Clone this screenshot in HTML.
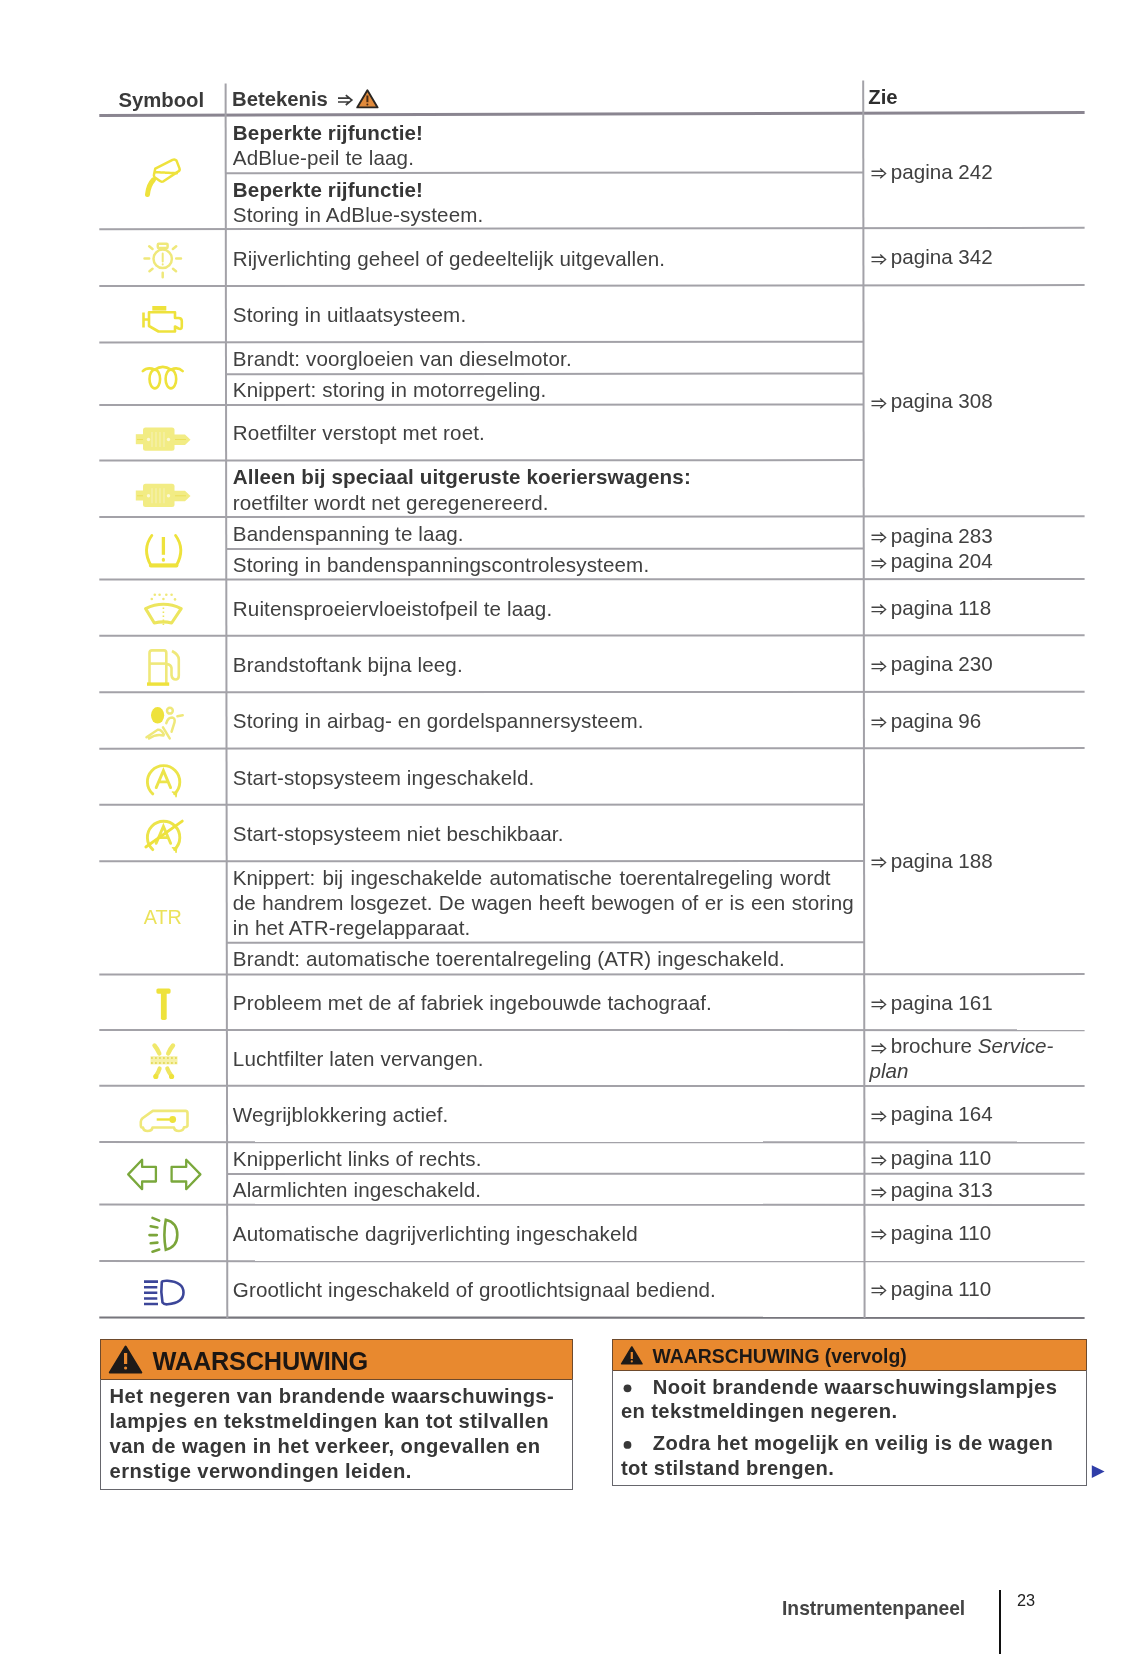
<!DOCTYPE html>
<html><head><meta charset="utf-8"><title>Instrumentenpaneel</title>
<style>
html,body{margin:0;padding:0;background:#fff;}
body{width:1142px;height:1654px;position:relative;overflow:hidden;font-family:"Liberation Sans",sans-serif;}
#pg{position:absolute;left:0;top:0;width:1142px;height:1654px;filter:blur(0.5px);}
.t{position:absolute;white-space:nowrap;}
.ov{position:absolute;left:0;top:0;}
.ar{display:inline-block;vertical-align:baseline;margin-right:4.3px;position:relative;top:0.5px;}
.ar2{display:inline-block;vertical-align:baseline;margin-left:2px;}
</style></head><body><div id="pg">
<div style="position:absolute;left:99.5px;top:1339px;width:473px;height:41px;background:#e8892f;border:1.5px solid #6e4a2c;box-sizing:border-box"></div><div style="position:absolute;left:99.5px;top:1379px;width:473.5px;height:110.5px;border:1.4px solid #66666c;border-top:none;box-sizing:border-box"></div><div style="position:absolute;left:612px;top:1339px;width:474.5px;height:32px;background:#e8892f;border:1.5px solid #6e4a2c;box-sizing:border-box"></div><div style="position:absolute;left:612px;top:1370px;width:474.5px;height:115.5px;border:1.4px solid #66666c;border-top:none;box-sizing:border-box"></div>
<svg class="ov" width="1142" height="1654" viewBox="0 0 1142 1654"><line x1="99.3" y1="115.5" x2="1084.6" y2="112.6" stroke="#8a8590" stroke-width="3"/><line x1="99.3" y1="229.2" x2="1084.6" y2="227.8" stroke="#a3a2a8" stroke-width="2"/><line x1="99.3" y1="286.1" x2="1084.6" y2="285.1" stroke="#a3a2a8" stroke-width="2"/><line x1="99.3" y1="517.1" x2="1084.6" y2="516.3" stroke="#a3a2a8" stroke-width="2"/><line x1="99.3" y1="579.6" x2="1084.6" y2="579" stroke="#a3a2a8" stroke-width="2"/><line x1="99.3" y1="635.7" x2="1084.6" y2="635.3" stroke="#a3a2a8" stroke-width="2"/><line x1="99.3" y1="692.2" x2="1084.6" y2="691.8" stroke="#a3a2a8" stroke-width="2"/><line x1="99.3" y1="748.7" x2="1084.6" y2="748.1" stroke="#a3a2a8" stroke-width="2"/><line x1="99.3" y1="974.6" x2="1084.6" y2="974.1" stroke="#a3a2a8" stroke-width="2"/><line x1="99.3" y1="1029.9" x2="1084.6" y2="1030.2" stroke="#a3a2a8" stroke-width="2"/><line x1="99.3" y1="1085.8" x2="1084.6" y2="1086.1" stroke="#a3a2a8" stroke-width="2"/><line x1="99.3" y1="1142.1" x2="1084.6" y2="1142.4" stroke="#a3a2a8" stroke-width="2"/><line x1="99.3" y1="1204.6" x2="1084.6" y2="1205" stroke="#a3a2a8" stroke-width="2"/><line x1="99.3" y1="1261.1" x2="1084.6" y2="1261.3" stroke="#a3a2a8" stroke-width="2"/><line x1="99.3" y1="1317.5" x2="1084.6" y2="1317.9" stroke="#77767d" stroke-width="2.2"/><line x1="99.3" y1="342.4" x2="863.2940566801619" y2="341.7" stroke="#a3a2a8" stroke-width="2"/><line x1="99.3" y1="405.1" x2="863.3651336032389" y2="404.5" stroke="#a3a2a8" stroke-width="2"/><line x1="99.3" y1="460.6" x2="863.428048582996" y2="460.1" stroke="#a3a2a8" stroke-width="2"/><line x1="99.3" y1="804.8" x2="863.8182348178137" y2="804.5" stroke="#a3a2a8" stroke-width="2"/><line x1="99.3" y1="861.3" x2="863.8822834008097" y2="861" stroke="#a3a2a8" stroke-width="2"/><line x1="225.63146558704454" y1="173.2" x2="863.1022510121458" y2="172.4" stroke="#a3a2a8" stroke-width="2"/><line x1="225.92442105263157" y1="374.2" x2="863.3301052631579" y2="373.5" stroke="#a3a2a8" stroke-width="2"/><line x1="226.17904453441295" y1="548.9" x2="863.5281457489879" y2="548.6" stroke="#a3a2a8" stroke-width="2"/><line x1="226.753004048583" y1="942.7" x2="863.9745587044534" y2="942.3" stroke="#a3a2a8" stroke-width="2"/><line x1="227.0901214574899" y1="1173.9" x2="1084.6" y2="1173.8" stroke="#a3a2a8" stroke-width="2"/><line x1="225.6" y1="83.5" x2="227.3" y2="1318" stroke="#a3a2a8" stroke-width="2"/><line x1="863.2" y1="80.5" x2="864.6" y2="1318" stroke="#a3a2a8" stroke-width="2"/><path d="M338,98.2H349.5M338,102H349.5M345.8,95.2L351.8,100.1L345.8,105" fill="none" stroke="#3a3a3a" stroke-width="1.7"/><path d="M367.4,90.2 L377.6,107.4 H357.2 Z" fill="#e08a3c" stroke="#2a2622" stroke-width="1.9" stroke-linejoin="round"/><path d="M367.4,95.5 V102.2" stroke="#4a2c14" stroke-width="2"/><circle cx="367.4" cy="104.6" r="1" fill="#4a2c14"/><g fill="none" stroke="#eee23c" stroke-width="2.5" stroke-linejoin="round" stroke-linecap="round"><path d="M155.3,168.6 L172.5,159.8 Q175,158.8 176.5,160.6 L179.5,168.4 Q180.3,170.6 178,171.6 L163.5,181.3 Q161.3,182.2 159.6,180.8 L154.6,177.2 Q153.5,176 154,174.5 Z"/><path d="M155.8,172.2 L176.8,173.2" stroke-dasharray="2 1.2"/><path d="M153.5,179.8 Q148.5,185 147.5,194.6" stroke-width="5"/></g><g fill="none" stroke="#efe87a" stroke-width="2.5" stroke-linecap="round"><circle cx="162.7" cy="258.8" r="9.2"/><rect x="157.8" y="243.8" width="9.8" height="4.2" rx="1"/><path d="M162.7,253.5V261.5M162.7,264.3V264.6" stroke-width="2"/><path d="M144.5,258.6H149.2M176.2,258.6H181M162.7,272.8V277.3M149.2,246.2L152.5,249M176.2,246.2L172.9,249M149.5,271.2L152.5,268.8M176,271.2L173,268.8"/></g><g fill="none" stroke="#eee23c" stroke-width="2.6" stroke-linejoin="round"><rect x="152.3" y="306" width="14" height="4.6" fill="#eee23c" stroke="none"/><path d="M149,312.2 H175 V318 H178.5 Q181.8,318 181.8,321 V326.5 Q181.8,329.8 178.5,328.5 L175,326.5 V331.5 H158.5 L149,326 Z"/><path d="M143.5,312.5 V327.5 M143.5,319.5 H149"/></g><g fill="none" stroke="#eee23c" stroke-width="2.6" stroke-linecap="round"><ellipse cx="154.8" cy="379" rx="5.3" ry="9.4"/><ellipse cx="170.9" cy="379" rx="5.3" ry="9.4"/><path d="M142.8,371.2 Q147.5,366.5 154.8,369.6 Q162.8,364 170.9,369.6 Q178,366.5 182.7,371.2"/></g><g transform="translate(0,0)"><rect x="143" y="427.5" width="31.5" height="23.2" rx="2.5" fill="#f2ec84"/><rect x="135.8" y="434.2" width="8" height="10" fill="#f2ec84"/><path d="M174,434.5 H185 L190.5,439.8 L185,445 H174 Z" fill="#f2ec84"/><g fill="#fbf8d8"><circle cx="148.5" cy="439.5" r="1.7"/><circle cx="168.5" cy="439.5" r="1.7"/><path d="M152,432V447M156,432V447M160,432V447M164,432V447" stroke="#f6f1b0" stroke-width="1.2"/></g><path d="M137,439.5H143M175,439.5H186" stroke="#ece05a" stroke-width="1"/></g><g transform="translate(0,56.3)"><rect x="143" y="427.5" width="31.5" height="23.2" rx="2.5" fill="#f2ec84"/><rect x="135.8" y="434.2" width="8" height="10" fill="#f2ec84"/><path d="M174,434.5 H185 L190.5,439.8 L185,445 H174 Z" fill="#f2ec84"/><g fill="#fbf8d8"><circle cx="148.5" cy="439.5" r="1.7"/><circle cx="168.5" cy="439.5" r="1.7"/><path d="M152,432V447M156,432V447M160,432V447M164,432V447" stroke="#f6f1b0" stroke-width="1.2"/></g><path d="M137,439.5H143M175,439.5H186" stroke="#ece05a" stroke-width="1"/></g><g fill="none" stroke="#eee23c" stroke-width="2.9" stroke-linecap="round"><path d="M151.8,535.5 Q141.8,549 150.8,565.3 H176.5 Q185.5,549 175.6,535.5"/><path d="M150.8,565.5 H176.5" stroke-width="3.8"/><path d="M163.4,537 V554.8" stroke-width="3.3" stroke-linecap="butt"/><path d="M163.4,559.3 V560.3" stroke-width="3"/></g><g fill="none" stroke="#ece55e" stroke-width="3.1" stroke-linejoin="round"><path d="M145.6,608.6 Q163.4,600 181.2,608.6 L171.6,623 Q163.4,620.8 154.3,623 Z"/><path d="M163.4,607.5 V626.5" stroke-width="1.6" stroke-dasharray="1.6 2.4"/><g fill="#efe87a" stroke="none"><circle cx="151.8" cy="599" r="1.3"/><circle cx="154.8" cy="594.7" r="1.3"/><circle cx="159.6" cy="594.7" r="1.3"/><circle cx="163.4" cy="599" r="1.3"/><circle cx="166.3" cy="594.7" r="1.3"/><circle cx="171.6" cy="594.7" r="1.3"/><circle cx="175" cy="599.4" r="1.3"/></g></g><g fill="none" stroke="#efe87a" stroke-width="2.6" stroke-linejoin="round"><path d="M149.5,683 V653 Q149.5,650.4 152,650.4 H164 Q166.3,650.4 166.3,653 V683"/><path d="M149.5,663.6 H166.3"/><rect x="147" y="682.4" width="22.2" height="3.4" fill="#eee23c" stroke="none"/><path d="M166.8,664.1 Q171,664.5 171.5,668 V675 Q172,679.5 176,679.5 Q178.8,679.2 178.8,675.5 V659.5 Q178.8,654.5 172,651"/></g><g fill="none" stroke="#efe87a" stroke-width="2.5" stroke-linecap="round"><ellipse cx="157.6" cy="715.3" rx="6.6" ry="8.3" fill="#eee23c" stroke="none"/><circle cx="169.9" cy="710.7" r="2.9"/><path d="M177.4,716.2 L182.7,715.2"/><path d="M166.3,723.2 Q168,717.6 172,717.6 Q175.5,718 174.5,722.5 L171.6,731.7"/><path d="M146.5,737.3 L157.6,729.8 Q161,729 163.9,734.5 M149,738.5 Q156,733.5 163.5,735.5"/><path d="M163,727.3 L169.7,738.4"/></g><g fill="none" stroke="#ece44a" stroke-width="2.9" stroke-linecap="round"><path d="M152.8,793.9 A16.2,16.2 0 1 1 174.6,793.7"/><path d="M156.2,787.6 L163.4,770.7 L170.6,787.6 M158.6,781.9 H168.2"/><path d="M172.5,792.0 L176.5,792.8000000000001 L176,796.6" fill="#ece44a" stroke-width="1.6"/></g><g fill="none" stroke="#ece44a" stroke-width="2.9" stroke-linecap="round"><path d="M152.8,849.5999999999999 A16.2,16.2 0 1 1 174.6,849.4"/><path d="M156.2,843.3 L163.4,826.4 L170.6,843.3 M158.6,837.5999999999999 H168.2"/><path d="M172.5,847.6999999999999 L176.5,848.5 L176,852.3" fill="#ece44a" stroke-width="1.6"/></g><path d="M145.8,847.0 L182.3,821.0999999999999" stroke="#eee23c" stroke-width="2.8" stroke-linecap="round"/><g fill="#eee23c"><rect x="156.4" y="988.4" width="14.2" height="5.3" rx="1.6"/><rect x="160.9" y="990" width="5.8" height="30" rx="1.8"/></g><g fill="none" stroke-linecap="round"><path d="M154.5,1045.5 Q157.5,1049 159.3,1053.5 M173,1045.5 Q170,1049 168.2,1053.5" stroke="#f0e86a" stroke-width="4.4"/><path d="M159.6,1068.5 Q158.5,1072.5 155.8,1076 M167.3,1068.5 Q168.8,1072.5 171.6,1076" stroke="#efe660" stroke-width="4.2"/><rect x="150.5" y="1056.2" width="27" height="8.2" fill="#f6f1a8" stroke="none"/><path d="M151,1058 H177.5 M151,1063 H177.5" stroke="#e6dc60" stroke-width="1.8" stroke-dasharray="1.8 2.2" stroke-linecap="butt"/><circle cx="155.8" cy="1076.5" r="2.6" fill="#eee23c" stroke="none"/><circle cx="171.6" cy="1076.5" r="2.6" fill="#eee23c" stroke="none"/></g><g fill="none" stroke="#efe87a" stroke-width="2.6" stroke-linejoin="round"><path d="M152.8,1110.9 H185.5 Q187.5,1111 187.5,1113 V1125.5 Q187.5,1127 185,1127.2 H184 Q183.5,1131 179,1131 Q174.5,1131 174,1127.5 H152.5 Q152,1131 147.6,1131 Q143.5,1131 143,1127.5 H141.5 Q140.8,1127 140.8,1125.5 V1121.7 Q140.8,1119.8 142.5,1118.2 Z"/><path d="M156.7,1119.5 H169.8" stroke="#eee23c" stroke-width="2.4"/><circle cx="172.7" cy="1119.5" r="3.4" fill="#eee23c" stroke="none"/></g><g fill="none" stroke="#7aa83c" stroke-width="2.3" stroke-linejoin="round"><path d="M128.2,1174.4 L142.1,1159.8 V1166.9 H155.9 V1181.5 H142.1 V1189.2 Z"/><path d="M200.4,1174.4 L186.2,1159.8 V1166.9 H171.6 V1181.5 H186.2 V1189.2 Z"/></g><g fill="none" stroke="#7ba53a" stroke-width="2.6" stroke-linecap="round"><path d="M165.8,1219.8 Q163,1234.8 165.8,1249.8 Q177.3,1247 177.3,1234.8 Q177.3,1222.5 165.8,1219.8 Z"/><path d="M152.5,1217.9 L159.2,1220.6 M150.7,1226.3 L157.4,1227.5 M149.5,1235.1 H156.8 M150.7,1243.2 L157.4,1242.6 M152.5,1251.7 L159.2,1249.6"/></g><g fill="none" stroke="#3c4699" stroke-width="2.6"><path d="M161.8,1282 Q160.5,1292.5 162.5,1302.5 Q164,1304.6 167.5,1304.3 Q183.5,1303 183.5,1292.6 Q183.5,1282 167.5,1280.8 Q162.5,1280.6 161.8,1282 Z"/><path d="M144,1281.6 H158 M144,1287.2 H157.3 M144,1292.8 H157.3 M144,1298.5 H157.3 M144,1304 H158"/></g><path d="M125.6,1346.5 L141.3,1372.6 H109.8 Z" fill="#1e1a18" stroke="#1e1a18" stroke-width="2" stroke-linejoin="round"/><path d="M125.6,1353 V1364" stroke="#e8892f" stroke-width="3.2"/><circle cx="125.6" cy="1368" r="1.6" fill="#e8892f"/><path d="M631.8,1347 L642,1363.8 H621.6 Z" fill="#1e1a18" stroke="#1e1a18" stroke-width="1.6" stroke-linejoin="round"/><path d="M631.8,1352 V1359" stroke="#e8892f" stroke-width="2.2"/><circle cx="631.8" cy="1361.4" r="1.1" fill="#e8892f"/><circle cx="627.5" cy="1388.3" r="3.9" fill="#383838"/><circle cx="627.5" cy="1444.9" r="3.9" fill="#383838"/><path d="M1091.8,1465.2 L1104.6,1471.6 L1091.8,1478 Z" fill="#2f3ea8"/></svg>
<div class="t" style="left:118.5px;top:87.77px;font-size:20.3px;line-height:25px;font-weight:bold;color:#3a3a3a;font-style:normal;">Symbool</div><div class="t" style="left:232px;top:86.87px;font-size:20.3px;line-height:25px;font-weight:bold;color:#3a3a3a;font-style:normal;">Betekenis</div><div class="t" style="left:868.3px;top:84.67px;font-size:20.3px;line-height:25px;font-weight:bold;color:#2e2e2e;font-style:normal;">Zie</div><div class="t" style="left:232.8px;top:119.96px;font-size:20.6px;line-height:25px;font-weight:bold;color:#363636;font-style:normal;letter-spacing:0.13px;">Beperkte rijfunctie!</div><div class="t" style="left:232.8px;top:145.36px;font-size:20.6px;line-height:25px;font-weight:normal;color:#404040;font-style:normal;letter-spacing:0.13px;">AdBlue-peil te laag.</div><div class="t" style="left:232.8px;top:176.86px;font-size:20.6px;line-height:25px;font-weight:bold;color:#363636;font-style:normal;letter-spacing:0.13px;">Beperkte rijfunctie!</div><div class="t" style="left:232.8px;top:201.96px;font-size:20.6px;line-height:25px;font-weight:normal;color:#404040;font-style:normal;letter-spacing:0.13px;">Storing in AdBlue-systeem.</div><div class="t" style="left:232.8px;top:245.66px;font-size:20.6px;line-height:25px;font-weight:normal;color:#404040;font-style:normal;letter-spacing:0.13px;">Rijverlichting geheel of gedeeltelijk uitgevallen.</div><div class="t" style="left:232.8px;top:301.86px;font-size:20.6px;line-height:25px;font-weight:normal;color:#404040;font-style:normal;letter-spacing:0.13px;">Storing in uitlaatsysteem.</div><div class="t" style="left:232.8px;top:346.06px;font-size:20.6px;line-height:25px;font-weight:normal;color:#404040;font-style:normal;letter-spacing:0.13px;">Brandt: voorgloeien van dieselmotor.</div><div class="t" style="left:232.8px;top:377.36px;font-size:20.6px;line-height:25px;font-weight:normal;color:#404040;font-style:normal;letter-spacing:0.13px;">Knippert: storing in motorregeling.</div><div class="t" style="left:232.8px;top:420.36px;font-size:20.6px;line-height:25px;font-weight:normal;color:#404040;font-style:normal;letter-spacing:0.13px;">Roetfilter verstopt met roet.</div><div class="t" style="left:232.8px;top:464.36px;font-size:20.6px;line-height:25px;font-weight:bold;color:#363636;font-style:normal;letter-spacing:0.13px;">Alleen bij speciaal uitgeruste koerierswagens:</div><div class="t" style="left:232.8px;top:489.86px;font-size:20.6px;line-height:25px;font-weight:normal;color:#404040;font-style:normal;letter-spacing:0.13px;">roetfilter wordt net geregenereerd.</div><div class="t" style="left:232.8px;top:520.66px;font-size:20.6px;line-height:25px;font-weight:normal;color:#404040;font-style:normal;letter-spacing:0.13px;">Bandenspanning te laag.</div><div class="t" style="left:232.8px;top:551.86px;font-size:20.6px;line-height:25px;font-weight:normal;color:#404040;font-style:normal;letter-spacing:0.13px;">Storing in bandenspanningscontrolesysteem.</div><div class="t" style="left:232.8px;top:596.36px;font-size:20.6px;line-height:25px;font-weight:normal;color:#404040;font-style:normal;letter-spacing:0.13px;">Ruitensproeiervloeistofpeil te laag.</div><div class="t" style="left:232.8px;top:652.36px;font-size:20.6px;line-height:25px;font-weight:normal;color:#404040;font-style:normal;letter-spacing:0.13px;">Brandstoftank bijna leeg.</div><div class="t" style="left:232.8px;top:708.36px;font-size:20.6px;line-height:25px;font-weight:normal;color:#404040;font-style:normal;letter-spacing:0.13px;">Storing in airbag- en gordelspannersysteem.</div><div class="t" style="left:232.8px;top:764.56px;font-size:20.6px;line-height:25px;font-weight:normal;color:#404040;font-style:normal;letter-spacing:0.13px;">Start-stopsysteem ingeschakeld.</div><div class="t" style="left:232.8px;top:820.96px;font-size:20.6px;line-height:25px;font-weight:normal;color:#404040;font-style:normal;letter-spacing:0.13px;">Start-stopsysteem niet beschikbaar.</div><div class="t" style="left:232.8px;top:946.16px;font-size:20.6px;line-height:25px;font-weight:normal;color:#404040;font-style:normal;letter-spacing:0.13px;">Brandt: automatische toerentalregeling (ATR) ingeschakeld.</div><div class="t" style="left:232.8px;top:989.76px;font-size:20.6px;line-height:25px;font-weight:normal;color:#404040;font-style:normal;letter-spacing:0.13px;">Probleem met de af fabriek ingebouwde tachograaf.</div><div class="t" style="left:232.8px;top:1046.36px;font-size:20.6px;line-height:25px;font-weight:normal;color:#404040;font-style:normal;letter-spacing:0.13px;">Luchtfilter laten vervangen.</div><div class="t" style="left:232.8px;top:1102.36px;font-size:20.6px;line-height:25px;font-weight:normal;color:#404040;font-style:normal;letter-spacing:0.13px;">Wegrijblokkering actief.</div><div class="t" style="left:232.8px;top:1146.36px;font-size:20.6px;line-height:25px;font-weight:normal;color:#404040;font-style:normal;letter-spacing:0.13px;">Knipperlicht links of rechts.</div><div class="t" style="left:232.8px;top:1177.06px;font-size:20.6px;line-height:25px;font-weight:normal;color:#404040;font-style:normal;letter-spacing:0.13px;">Alarmlichten ingeschakeld.</div><div class="t" style="left:232.8px;top:1221.06px;font-size:20.6px;line-height:25px;font-weight:normal;color:#404040;font-style:normal;letter-spacing:0.13px;">Automatische dagrijverlichting ingeschakeld</div><div class="t" style="left:232.8px;top:1276.96px;font-size:20.6px;line-height:25px;font-weight:normal;color:#404040;font-style:normal;letter-spacing:0.13px;">Grootlicht ingeschakeld of grootlichtsignaal bediend.</div><div class="t" style="left:232.8px;top:864.76px;font-size:20.6px;line-height:25px;font-weight:normal;color:#404040;font-style:normal;width:597.8px;text-align:justify;text-align-last:justify;white-space:normal;">Knippert: bij ingeschakelde automatische toerentalregeling wordt</div><div class="t" style="left:232.8px;top:890.16px;font-size:20.6px;line-height:25px;font-weight:normal;color:#404040;font-style:normal;width:620.8px;text-align:justify;text-align-last:justify;white-space:normal;">de handrem losgezet. De wagen heeft bewogen of er is een storing</div><div class="t" style="left:232.8px;top:914.66px;font-size:20.6px;line-height:25px;font-weight:normal;color:#404040;font-style:normal;letter-spacing:0.13px;">in het ATR-regelapparaat.</div><div class="t" style="left:870.5px;top:158.76px;font-size:20.6px;line-height:25px;color:#404040"><svg class="ar" width="16" height="11" viewBox="0 0 16 11"><path d="M0.5 3.2H12.5M0.5 7.6H12.5M9.2 0.6L14.6 5.4L9.2 10.2" fill="none" stroke="#444" stroke-width="1.35"/></svg>pagina 242</div><div class="t" style="left:870.5px;top:244.36px;font-size:20.6px;line-height:25px;color:#404040"><svg class="ar" width="16" height="11" viewBox="0 0 16 11"><path d="M0.5 3.2H12.5M0.5 7.6H12.5M9.2 0.6L14.6 5.4L9.2 10.2" fill="none" stroke="#444" stroke-width="1.35"/></svg>pagina 342</div><div class="t" style="left:870.5px;top:388.36px;font-size:20.6px;line-height:25px;color:#404040"><svg class="ar" width="16" height="11" viewBox="0 0 16 11"><path d="M0.5 3.2H12.5M0.5 7.6H12.5M9.2 0.6L14.6 5.4L9.2 10.2" fill="none" stroke="#444" stroke-width="1.35"/></svg>pagina 308</div><div class="t" style="left:870.5px;top:522.86px;font-size:20.6px;line-height:25px;color:#404040"><svg class="ar" width="16" height="11" viewBox="0 0 16 11"><path d="M0.5 3.2H12.5M0.5 7.6H12.5M9.2 0.6L14.6 5.4L9.2 10.2" fill="none" stroke="#444" stroke-width="1.35"/></svg>pagina 283</div><div class="t" style="left:870.5px;top:548.16px;font-size:20.6px;line-height:25px;color:#404040"><svg class="ar" width="16" height="11" viewBox="0 0 16 11"><path d="M0.5 3.2H12.5M0.5 7.6H12.5M9.2 0.6L14.6 5.4L9.2 10.2" fill="none" stroke="#444" stroke-width="1.35"/></svg>pagina 204</div><div class="t" style="left:870.5px;top:594.56px;font-size:20.6px;line-height:25px;color:#404040"><svg class="ar" width="16" height="11" viewBox="0 0 16 11"><path d="M0.5 3.2H12.5M0.5 7.6H12.5M9.2 0.6L14.6 5.4L9.2 10.2" fill="none" stroke="#444" stroke-width="1.35"/></svg>pagina 118</div><div class="t" style="left:870.5px;top:651.36px;font-size:20.6px;line-height:25px;color:#404040"><svg class="ar" width="16" height="11" viewBox="0 0 16 11"><path d="M0.5 3.2H12.5M0.5 7.6H12.5M9.2 0.6L14.6 5.4L9.2 10.2" fill="none" stroke="#444" stroke-width="1.35"/></svg>pagina 230</div><div class="t" style="left:870.5px;top:707.76px;font-size:20.6px;line-height:25px;color:#404040"><svg class="ar" width="16" height="11" viewBox="0 0 16 11"><path d="M0.5 3.2H12.5M0.5 7.6H12.5M9.2 0.6L14.6 5.4L9.2 10.2" fill="none" stroke="#444" stroke-width="1.35"/></svg>pagina 96</div><div class="t" style="left:870.5px;top:847.96px;font-size:20.6px;line-height:25px;color:#404040"><svg class="ar" width="16" height="11" viewBox="0 0 16 11"><path d="M0.5 3.2H12.5M0.5 7.6H12.5M9.2 0.6L14.6 5.4L9.2 10.2" fill="none" stroke="#444" stroke-width="1.35"/></svg>pagina 188</div><div class="t" style="left:870.5px;top:989.56px;font-size:20.6px;line-height:25px;color:#404040"><svg class="ar" width="16" height="11" viewBox="0 0 16 11"><path d="M0.5 3.2H12.5M0.5 7.6H12.5M9.2 0.6L14.6 5.4L9.2 10.2" fill="none" stroke="#444" stroke-width="1.35"/></svg>pagina 161</div><div class="t" style="left:870.5px;top:1101.36px;font-size:20.6px;line-height:25px;color:#404040"><svg class="ar" width="16" height="11" viewBox="0 0 16 11"><path d="M0.5 3.2H12.5M0.5 7.6H12.5M9.2 0.6L14.6 5.4L9.2 10.2" fill="none" stroke="#444" stroke-width="1.35"/></svg>pagina 164</div><div class="t" style="left:870.5px;top:1145.06px;font-size:20.6px;line-height:25px;color:#404040"><svg class="ar" width="16" height="11" viewBox="0 0 16 11"><path d="M0.5 3.2H12.5M0.5 7.6H12.5M9.2 0.6L14.6 5.4L9.2 10.2" fill="none" stroke="#444" stroke-width="1.35"/></svg>pagina 110</div><div class="t" style="left:870.5px;top:1177.16px;font-size:20.6px;line-height:25px;color:#404040"><svg class="ar" width="16" height="11" viewBox="0 0 16 11"><path d="M0.5 3.2H12.5M0.5 7.6H12.5M9.2 0.6L14.6 5.4L9.2 10.2" fill="none" stroke="#444" stroke-width="1.35"/></svg>pagina 313</div><div class="t" style="left:870.5px;top:1219.96px;font-size:20.6px;line-height:25px;color:#404040"><svg class="ar" width="16" height="11" viewBox="0 0 16 11"><path d="M0.5 3.2H12.5M0.5 7.6H12.5M9.2 0.6L14.6 5.4L9.2 10.2" fill="none" stroke="#444" stroke-width="1.35"/></svg>pagina 110</div><div class="t" style="left:870.5px;top:1275.96px;font-size:20.6px;line-height:25px;color:#404040"><svg class="ar" width="16" height="11" viewBox="0 0 16 11"><path d="M0.5 3.2H12.5M0.5 7.6H12.5M9.2 0.6L14.6 5.4L9.2 10.2" fill="none" stroke="#444" stroke-width="1.35"/></svg>pagina 110</div><div class="t" style="left:870.5px;top:1033.16px;font-size:20.6px;line-height:25px;color:#404040"><svg class="ar" width="16" height="11" viewBox="0 0 16 11"><path d="M0.5 3.2H12.5M0.5 7.6H12.5M9.2 0.6L14.6 5.4L9.2 10.2" fill="none" stroke="#444" stroke-width="1.35"/></svg>brochure <i>Service-</i></div><div class="t" style="left:869.5px;top:1057.76px;font-size:20.6px;line-height:25px;font-weight:normal;color:#404040;font-style:normal;"><i>plan</i></div><div class="t" style="left:143.8px;top:905.34px;font-size:19.8px;line-height:25px;color:#ebe25a">ATR</div><div class="t" style="left:152.6px;top:1346.43px;font-size:25.3px;line-height:30px;font-weight:bold;color:#1c1612;letter-spacing:-0.2px">WAARSCHUWING</div><div class="t" style="left:109.6px;top:1383.80px;font-size:20.2px;line-height:25px;font-weight:bold;color:#363636;font-style:normal;letter-spacing:0.4px;">Het negeren van brandende waarschuwings-</div><div class="t" style="left:109.6px;top:1408.80px;font-size:20.2px;line-height:25px;font-weight:bold;color:#363636;font-style:normal;letter-spacing:0.4px;">lampjes en tekstmeldingen kan tot stilvallen</div><div class="t" style="left:109.6px;top:1434.00px;font-size:20.2px;line-height:25px;font-weight:bold;color:#363636;font-style:normal;letter-spacing:0.4px;">van de wagen in het verkeer, ongevallen en</div><div class="t" style="left:109.6px;top:1459.20px;font-size:20.2px;line-height:25px;font-weight:bold;color:#363636;font-style:normal;letter-spacing:0.4px;">ernstige verwondingen leiden.</div><div class="t" style="left:652.5px;top:1343.58px;font-size:19.4px;line-height:25px;font-weight:bold;color:#1c1816;font-style:normal;">WAARSCHUWING (vervolg)</div><div class="t" style="left:652.8px;top:1374.50px;font-size:20.2px;line-height:25px;font-weight:bold;color:#363636;font-style:normal;letter-spacing:0.36px;">Nooit brandende waarschuwingslampjes</div><div class="t" style="left:621.0px;top:1399.20px;font-size:20.2px;line-height:25px;font-weight:bold;color:#363636;font-style:normal;letter-spacing:0.36px;">en tekstmeldingen negeren.</div><div class="t" style="left:652.8px;top:1430.70px;font-size:20.2px;line-height:25px;font-weight:bold;color:#363636;font-style:normal;letter-spacing:0.36px;">Zodra het mogelijk en veilig is de wagen</div><div class="t" style="left:621.0px;top:1455.80px;font-size:20.2px;line-height:25px;font-weight:bold;color:#363636;font-style:normal;letter-spacing:0.36px;">tot stilstand brengen.</div><div class="t" style="left:782px;top:1596.01px;font-size:19.3px;line-height:25px;font-weight:bold;color:#444;font-style:normal;">Instrumentenpaneel</div><div style="position:absolute;left:998.8px;top:1590px;width:2.6px;height:64px;background:#111"></div><div class="t" style="left:1016.9px;top:1587.55px;font-size:16.3px;line-height:25px;font-weight:normal;color:#222;font-style:normal;">23</div>
</div></body></html>
